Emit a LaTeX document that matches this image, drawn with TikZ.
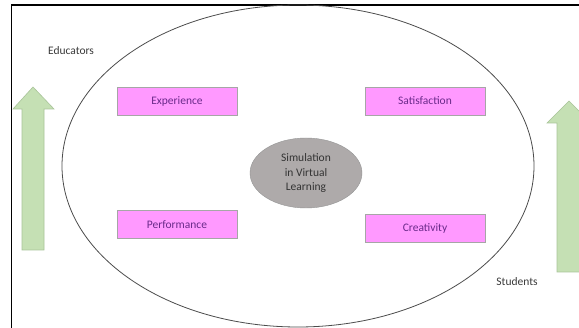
\documentclass[tikz,border=0pt]{standalone}
\usepackage{fontspec}
\setmainfont{Carlito}
\usetikzlibrary{shapes.geometric}
\definecolor{boxfill}{HTML}{FF99FF}
\definecolor{boxline}{HTML}{A6A6A6}
\definecolor{boxtext}{HTML}{6A2A8A}
\definecolor{labtext}{HTML}{3A3A3A}
\definecolor{ovalfill}{HTML}{AEAAAA}
\definecolor{ovalline}{HTML}{959595}
\definecolor{arrowfill}{HTML}{C5E0B4}
\definecolor{arrowline}{HTML}{A9C49A}
\begin{document}
\begin{tikzpicture}[x=1pt,y=-1pt,
  factor/.style={draw=boxline,fill=boxfill,minimum width=120pt,minimum height=28pt,inner sep=0pt,font=\fontsize{11.5}{13}\selectfont,text=boxtext},
  label/.style={font=\fontsize{11.5}{13}\selectfont,text=labtext,inner sep=0pt},
  uparrow/.style={fill=arrowfill,draw=arrowline,line width=0.6pt}]
\useasboundingbox (0,0) rectangle (579,328);
\clip (0,0) rectangle (579,328);
\fill[white] (0,0) rectangle (579,328);
% frame
\draw[line width=1.8pt] (11.5,340) -- (11.5,5) -- (600,5);
% big ellipse
\draw[line width=0.8pt,draw=black!70] (298,166) ellipse [x radius=236,y radius=161];
% arrows
\draw[uparrow] (22,250) -- (22,109) -- (13,109) -- (33,87) -- (54,109) -- (44,109) -- (44,250) -- cycle;
\draw[uparrow] (557,272) -- (557,123) -- (547,123) -- (569,101) -- (591,123) -- (581,123) -- (581,272) -- cycle;
% labels
\node[label] (edu) at (71,51) {Educators};
\node[label] (stu) at (517,282) {Students};
% factors
\node[factor] (exp) at (177,101) {Experience};
\node[factor] (sat) at (425,101) {Satisfaction};
\node[factor] (perf) at (177,224.5) {Performance};
\node[factor] (cre) at (425,228) {Creativity};
% centre
\node[ellipse,draw=ovalline,fill=ovalfill,minimum width=112pt,minimum height=70pt,inner sep=0pt,align=center,font=\fontsize{11.5}{14.5}\selectfont,text=black!80] (sim) at (306,173) {Simulation\\in Virtual\\Learning};
\end{tikzpicture}
\end{document}
